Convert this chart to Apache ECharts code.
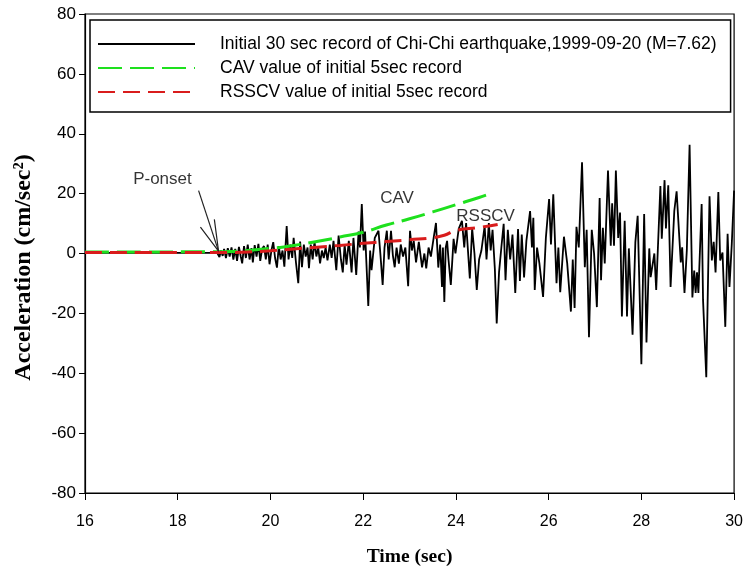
<!DOCTYPE html>
<html>
<head>
<meta charset="utf-8">
<script src="https://cdn.jsdelivr.net/npm/echarts@6/dist/echarts.min.js"></script>
<style>html,body{margin:0;padding:0;background:#fff}#c{width:746px;height:572px}</style>
</head>
<body>
<div id="c"></div>
<script>
// ---- data ----
var xTicks = [16, 18, 20, 22, 24, 26, 28, 30];
var yTicks = [-80, -60, -40, -20, 0, 20, 40, 60, 80];
var seriesNames = [
  'Initial 30 sec record of Chi-Chi earthquake,1999-09-20 (M=7.62)',
  'CAV value of initial 5sec record',
  'RSSCV value of initial 5sec record'
];
// acceleration record [time (s), acceleration (cm/sec^2)]
var record = [
 [16,0.2],[18.85,0.2],
 [18.9,-1.2],[18.93,1.0],[18.97,-0.8],[19.0,1.5],[19.04,-1.5],[19.08,1.8],[19.12,-1.0],[19.16,2.0],[19.2,-2.0],[19.24,1.5],[19.28,-2.5],[19.32,2.2],[19.36,-1.0],[19.39,-3.3],[19.43,2.5],[19.47,-1.5],[19.51,3.0],[19.55,-2.0],[19.59,1.8],[19.62,-3.0],[19.66,2.8],[19.7,-1.0],[19.74,3.2],[19.78,-2.5],[19.82,1.5],[19.86,2.5],[19.9,-2.0],[19.94,3.0],[19.98,-3.6],
 [20.02,1.0],[20.06,3.8],[20.1,-1.5],[20.14,-4.7],[20.18,2.5],[20.22,-2.0],[20.26,1.0],[20.3,-4.4],[20.35,9.2],[20.39,-2.0],[20.43,3.0],[20.47,-1.5],[20.5,5.2],[20.55,-3.0],[20.6,-9.9],[20.64,4.0],[20.68,-4.6],[20.72,3.0],[20.76,-1.0],[20.8,2.0],[20.83,-4.9],[20.87,3.0],[20.91,-2.0],[20.95,4.0],[20.99,-1.0],
 [21.03,2.0],[21.07,-3.3],[21.11,1.0],[21.15,-1.5],[21.19,2.0],[21.23,-2.3],[21.28,3.0],[21.32,-1.5],[21.36,4.2],[21.42,-5.6],[21.47,6.0],[21.52,-2.0],[21.56,-6.3],[21.6,3.0],[21.64,-3.7],[21.69,4.2],[21.75,-6.3],[21.79,5.2],[21.85,-7.2],[21.9,7.3],[21.93,2.0],[21.97,16.5],
 [22.01,1.0],[22.04,7.3],[22.11,-17.5],[22.15,1.0],[22.18,-5.6],[22.25,5.2],[22.33,7.6],[22.37,0],[22.42,-10.5],[22.46,2.0],[22.51,7.6],[22.55,-2.0],[22.6,7.6],[22.64,-0.6],[22.68,-4.6],[22.72,2.0],[22.77,-3.4],[22.81,3.0],[22.86,-1.0],[22.91,2.0],[22.97,-10.9],
 [23.01,7.6],[23.05,1.0],[23.09,4.2],[23.14,-3.0],[23.2,3.9],[23.27,-4.6],[23.32,0],[23.36,-5.0],[23.41,2.0],[23.46,-1.0],[23.52,5.2],[23.57,10.2],[23.62,-4.7],[23.66,3.0],[23.7,-11.2],[23.72,2.0],[23.75,-16.2],[23.78,2.0],[23.81,4.2],[23.84,-2.0],[23.89,-10.5],[23.95,4.9],[23.99,0],
 [24.06,8.2],[24.13,10.9],[24.18,2.0],[24.22,10.2],[24.3,-8.3],[24.35,8.4],[24.4,0],[24.45,-12.2],[24.5,-2.0],[24.55,1.0],[24.62,9.2],[24.66,-2.0],[24.71,10.2],[24.75,1.0],[24.79,7.9],[24.84,-5.2],[24.88,-23.4],[24.93,-6.3],[24.98,2.0],
 [25.03,9.9],[25.07,-8.9],[25.12,7.9],[25.17,-2.0],[25.22,6.3],[25.28,-13.2],[25.34,8.2],[25.38,-9.2],[25.42,6.3],[25.47,-8.0],[25.52,4.2],[25.6,14.2],[25.64,2.0],[25.67,11.9],[25.7,-12.2],[25.75,2.0],[25.8,-3.2],[25.88,-14.5],[25.94,5.2],
 [26.01,18.2],[26.05,3.0],[26.1,19.8],[26.17,-9.9],[26.21,2.0],[26.25,-12.9],[26.33,5.6],[26.4,-3.2],[26.48,-19.4],[26.52,-2.0],[26.56,-18.2],[26.6,8.9],[26.65,2.0],[26.72,30.5],[26.78,-4.6],[26.82,7.9],[26.87,-28.0],[26.93,7.9],[26.98,0],
 [27.04,-17.9],[27.1,18.5],[27.13,-8.9],[27.17,8.6],[27.21,-3.3],[27.28,27.7],[27.34,2.6],[27.37,16.8],[27.41,2.6],[27.45,27.7],[27.5,5.2],[27.54,13.7],[27.58,-21.0],[27.64,10.9],[27.69,-21.0],[27.73,1.7],[27.81,-27.1],[27.87,3.7],[27.92,12.6],
 [28.0,-37.0],[28.06,13.2],[28.11,-29.7],[28.17,1.7],[28.2,-7.9],[28.28,0],[28.32,-12.2],[28.41,22.5],[28.44,4.9],[28.5,24.5],[28.53,8.4],[28.58,22.8],[28.63,-11.2],[28.71,14.2],[28.76,20.8],[28.82,4.9],[28.85,-3.0],[28.88,2.1],[28.93,-13.2],[28.98,1.0],
 [29.04,36.3],[29.1,-14.7],[29.14,-5.7],[29.17,-13.2],[29.2,-6.3],[29.23,-13.2],[29.3,16.5],[29.33,-15.5],[29.4,-41.3],[29.47,19.1],[29.52,-2.3],[29.56,3.9],[29.6,-6.3],[29.66,20.5],[29.7,-2.3],[29.75,0.3],[29.81,-24.5],[29.86,6.6],[29.9,-11.2],[29.95,3.2],[30.0,21.0]
];
// CAV curve [time, value]
var cavCurve = [[16,0.5],[19,0.6],[19.5,1.0],[20,1.7],[20.5,2.7],[21,4.0],[21.5,5.5],[22,7.1],[22.5,9.5],[23,11.6],[23.5,13.9],[24,16.3],[24.5,18.7],[24.8,20.3]];
// RSSCV curve [time, value]
var rsscvCurve = [[16,0.3],[19,0.3],[19.5,0.5],[20,0.9],[20.5,1.5],[21,2.1],[21.5,2.7],[22,3.4],[22.5,4.0],[23,4.6],[23.5,5.3],[23.75,6.1],[24,7.7],[24.5,8.7],[24.9,9.7]];
// annotation arrow for P-onset
var arrowShaft = [[18.45,21.0],[18.88,0.8]];
var arrowHead = [[18.49,8.8],[18.88,0.8],[18.79,11.4]];
var annotations = [
  {text:'P-onset', at:[17.67,24.7]},
  {text:'CAV', at:[22.73,18.4]},
  {text:'RSSCV', at:[24.64,12.4]}
];

var chart = echarts.init(document.getElementById('c'));
var sans = 'Liberation Sans, Arial, sans-serif';
var serif = 'Liberation Serif, Times New Roman, serif';
chart.setOption({
  animation: false,
  backgroundColor: '#fff',
  grid: {left: 85, right: 9, top: 14, bottom: 76, show: true, borderColor: '#000', borderWidth: 1.2},
  legend: {
    data: seriesNames, orient: 'vertical', left: 90, top: 20,
    itemWidth: 97, itemHeight: 12, itemGap: 6,
    padding: [15, 14, 11, 7],
    borderColor: '#000', borderWidth: 1.5,
    itemStyle: {opacity: 0},
    textStyle: {fontFamily: sans, fontSize: 17.5, color: '#000', padding: [0, 0, 0, 20]}
  },
  xAxis: {
    type: 'value', min: xTicks[0], max: xTicks[xTicks.length-1], interval: 2,
    name: 'Time (sec)', nameLocation: 'middle', nameGap: 54,
    nameTextStyle: {fontFamily: serif, fontWeight: 'bold', fontSize: 19.5, color: '#000'},
    axisLine: {onZero: false, lineStyle: {color: '#000', width: 1.2}},
    axisTick: {inside: false, length: 7, lineStyle: {color: '#000'}},
    axisLabel: {fontFamily: sans, fontSize: 16, color: '#000', margin: 21},
    splitLine: {show: false}
  },
  yAxis: {
    type: 'value', min: yTicks[0], max: yTicks[yTicks.length-1], interval: 20,
    name: 'Acceleration (cm/sec²)', nameLocation: 'middle', nameGap: 49,
    nameTextStyle: {fontFamily: serif, fontWeight: 'bold', fontSize: 24, color: '#000', padding: [0, 28, 0, 0]},
    axisLine: {lineStyle: {color: '#000', width: 1.2}},
    axisTick: {inside: false, length: 6, lineStyle: {color: '#000'}},
    axisLabel: {fontFamily: sans, fontSize: 17, color: '#000', margin: 9},
    splitLine: {show: false}
  },
  series: [
    {name: seriesNames[0], type: 'line', data: record, showSymbol: false, symbol: 'none',
     lineStyle: {color: '#000', width: 1.8}, itemStyle: {color: '#000'}, z: 2},
    {name: seriesNames[1], type: 'line', data: cavCurve, smooth: true, showSymbol: false, symbol: 'none',
     lineStyle: {color: '#1ee01e', width: 3, type: [24, 8]}, itemStyle: {color: '#1ee01e'}, z: 3},
    {name: seriesNames[2], type: 'line', data: rsscvCurve, smooth: true, showSymbol: false, symbol: 'none',
     lineStyle: {color: '#d91c1c', width: 3, type: [17, 8]}, itemStyle: {color: '#d91c1c'}, z: 4},
    {name: 'arrowShaft', type: 'line', data: arrowShaft, showSymbol: false, symbol: 'none', silent: true,
     lineStyle: {color: '#222', width: 1.2}, z: 5},
    {name: 'arrowHead', type: 'line', data: arrowHead, showSymbol: false, symbol: 'none', silent: true,
     lineStyle: {color: '#222', width: 1.2}, z: 5},
    {name: 'labels', type: 'scatter', symbolSize: 0, silent: true, z: 6,
     data: annotations.map(function (a) { return {value: a.at, label: {show: true, formatter: a.text}}; }),
     label: {show: true, position: 'inside', fontFamily: sans, fontSize: 17, color: '#000'}}
  ]
});
</script>
</body>
</html>
